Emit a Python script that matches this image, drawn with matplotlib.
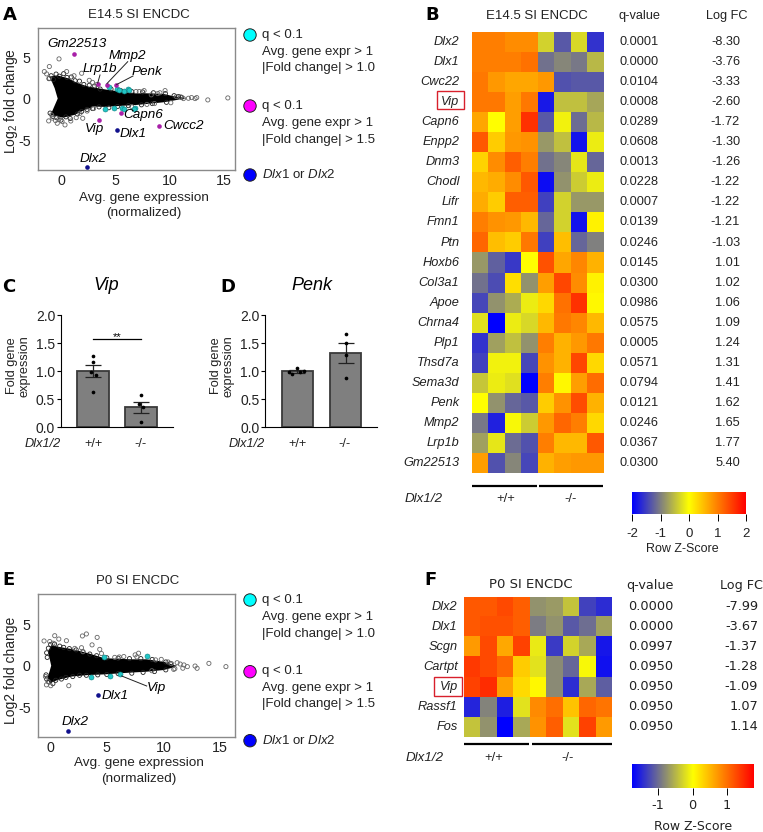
import matplotlib
matplotlib.use("Agg")
import matplotlib.pyplot as plt
import numpy as np
from matplotlib.colors import LinearSegmentedColormap
from matplotlib.patches import Circle, Rectangle

plt.rcParams["font.family"] = ["Liberation Sans", "DejaVu Sans"]
plt.rcParams["mathtext.fontset"] = "custom"
plt.rcParams["mathtext.rm"] = "Liberation Sans"
plt.rcParams["mathtext.it"] = "Liberation Sans:italic"
plt.rcParams["axes.unicode_minus"] = False

W, H = 763, 832
TXT = "#222222"

# panel A, MA plot
cloud_a_x = [-0.3, -0.58, -1.04, -0.28, 0.64, 1.56, 2.48, 3.4, 4.3, 6.35, 9.4, 10.3, 11.5,
             10.3, 9.4, 7.0, 4.0, 3.1, 2.18, 1.26, 0.2, -0.95, -0.6]
cloud_a_y = [0.0, 1.25, 2.66, 2.78, 2.45, 1.85, 1.45, 1.25, 1.05, 0.7, 0.57, 0.3, 0.05,
             -0.25, -0.45, -0.76, -1.0, -0.96, -1.36, -1.96, -2.3, -1.96, -0.9]
grey_a_x = [-0.18, -1.07, -1.53, -1.32, -1.07, 1.9, 0.52, -1.13, -0.86, -0.34, 0.37, 2.0, 1.75, 7.64, 9.57,
            15.34, 13.5, 12.33, 12.48, 11.72, 12.0, 11.26, 10.6, 11.0, 8.3, 7.2, 8.9, 2.6, 2.9, 3.3, 1.2,
            0.9, 1.4, -0.8, -0.5, -0.2, 0.1, 2.4, 3.0, 6.5, 7.9, 8.6, 6.9, 9.1, 10.1]
grey_a_y = [4.78, 3.86, 3.25, 2.97, 2.45, 3.05, 3.25, -2.69, -1.97, -2.97, -3.17, -2.37, -1.77, 0.96, 0.96,
            0.08, -0.16, 0.0, 0.12, 0.04, 0.12, 0.0, 0.24, 0.2, 0.45, 0.85, 0.6, 2.2, 1.95, 1.7, 2.75,
            -2.7, -2.3, -2.35, -2.65, -2.5, -2.75, -1.5, -1.2, -0.95, -0.7, -0.6, 0.85, 0.7, -0.5]
edge_a_x = [-1.1, -0.9, -0.7, -0.45, -0.15, 0.25, 0.55, 0.95, 1.3, 1.7, 2.1, 2.6, 3.1, 3.6, 4.6, 5.5, 6.5, 7.5, 8.5, 9.6,
            10.4, 10.8, 11.1, -1.0, -0.75, -0.4, 0.0, 0.45, 0.85, 1.5, 1.9, 2.4, 2.9, 3.5, 4.4, 5.2, 6.2, 7.4, 8.4, 9.7]
edge_a_y = [2.4, 2.75, 2.3, 2.95, 2.7, 3.0, 2.55, 2.6, 2.15, 2.1, 1.7, 1.6, 1.5, 1.15, 1.15, 0.95, 0.85, 0.8, 0.7, 0.6,
            0.35, 0.25, 0.15, -1.75, -2.15, -2.3, -2.6, -2.2, -2.4, -1.85, -1.55, -1.3, -1.2, -1.0, -1.1, -0.95, -0.85, -0.75, -0.6, -0.45]
cyan_a_x = [4.42, 5.12, 5.83, 6.2, 6.29, 5.37, 4.08, 4.88, 5.58, 5.8, 6.84, 6.75]
cyan_a_y = [1.37, 1.12, 0.96, 1.2, 1.0, 1.04, -1.24, -1.16, -1.16, -1.24, -1.08, -1.24]
magenta_a_x = [1.2, 3.37, 4.23, 5.06, 5.52, 3.53, 9.02]
magenta_a_y = [5.38, 1.73, 1.6, 1.6, -1.73, -2.6, -3.3]
blue_a_x = [5.15, 2.39]
blue_a_y = [-3.74, -8.23]

# panel E, MA plot
cloud_e_x = [0.1, -0.18, 0.12, 0.7, 1.9, 3.35, 4.8, 7.06, 8.5, 10.0, 10.9, 11.2,
             10.9, 10.0, 8.5, 7.06, 4.8, 3.35, 1.9, 0.7, -0.03, -0.24, -0.05]
cloud_e_y = [0.0, 1.7, 2.48, 2.28, 2.0, 1.5, 0.9, 0.77, 0.77, 0.48, 0.08, 0.0,
             -0.2, -0.52, -0.72, -0.83, -1.04, -1.12, -1.3, -1.7, -2.1, -1.5, -0.7]
grey_e_x = [0.41, 0.77, -0.53, -0.03, 0.26, 1.44, 2.85, 3.2, 4.15, 3.7, 4.38, 4.53, 2.77, 2.18, 2.9, -0.41, -0.32, 0.06,
            -0.18, 1.65, 15.5, 14.0, 12.96, 12.78, 12.1, 11.8, 11.7, 11.47, 11.2, 10.9, 10.7, 7.8, 7.5, 7.65, 9.8, 8.97,
            6.1, 6.5, 5.7, 9.3, 11.0, 10.4]
grey_e_y = [3.6, 3.2, 2.97, 2.9, 2.7, 3.0, 3.57, 3.81, 3.4, 2.5, 1.96, 1.46, 2.16, 2.08, 1.69, -1.3, -2.3, -2.4,
            -1.9, -2.4, -0.11, 0.28, -0.31, -0.04, -0.11, 0.09, -0.3, 0.2, 0.36, -0.44, 0.25, 1.5, 1.3, 1.05, 0.76, -0.6,
            1.05, 1.1, 1.0, 0.7, -0.35, 0.45]
edge_e_x = [-0.25, -0.3, -0.15, 0.05, 0.4, 0.85, 1.2, 1.7, 2.3, 2.9, 3.5, 4.1, 5.0, 6.0, 7.0, 8.0, 9.0, 10.2, 10.6,
            -0.35, -0.3, -0.1, 0.25, 0.5, 1.0, 1.4, 2.0, 2.6, 3.2, 4.2, 5.0, 6.0, 7.2, 8.2, 9.2, 10.2]
edge_e_y = [1.0, 1.55, 2.1, 2.55, 2.6, 2.35, 2.2, 2.05, 1.9, 1.65, 1.4, 1.2, 0.95, 0.9, 0.85, 0.85, 0.75, 0.45, 0.25,
            -1.1, -1.6, -1.95, -2.15, -1.75, -1.6, -1.4, -1.3, -1.15, -1.15, -1.1, -1.05, -0.95, -0.9, -0.8, -0.7, -0.5]
cyan_e_x = [4.74, 3.65, 5.32, 6.2, 8.53]
cyan_e_y = [1.09, -1.3, -1.2, -1.04, 1.16]
blue_e_x = [4.2, 1.56]
blue_e_y = [-3.56, -7.88]

# panel B heatmap
genes_b = ["Dlx2", "Dlx1", "Cwc22", "Vip", "Capn6", "Enpp2", "Dnm3", "Chodl", "Lifr", "Fmn1", "Ptn",
           "Hoxb6", "Col3a1", "Apoe", "Chrna4", "Plp1", "Thsd7a", "Sema3d", "Penk", "Mmp2", "Lrp1b", "Gm22513"]
q_b = ["0.0001", "0.0000", "0.0104", "0.0008", "0.0289", "0.0608", "0.0013", "0.0228", "0.0007", "0.0139", "0.0246",
       "0.0145", "0.0300", "0.0986", "0.0575", "0.0005", "0.0571", "0.0794", "0.0121", "0.0246", "0.0367", "0.0300"]
fc_b = ["-8.30", "-3.76", "-3.33", "-2.60", "-1.72", "-1.30", "-1.26", "-1.22", "-1.22", "-1.21", "-1.03",
        "1.01", "1.02", "1.06", "1.09", "1.24", "1.31", "1.41", "1.62", "1.65", "1.77", "5.40"]
z_b = [
    [1.0, 1.0, 0.9, 0.9, -0.35, -1.3, -0.3, -1.6],
    [1.0, 1.0, 1.0, 1.1, -1.1, -0.95, -1.05, -0.55],
    [1.05, 0.8, 0.7, 0.7, 0.8, -1.35, -1.3, -1.3],
    [1.05, 1.05, 0.75, 1.05, -1.8, -0.5, -0.5, -0.7],
    [0.7, 0.0, 0.75, 1.6, -1.3, -0.1, -1.15, -0.55],
    [1.3, 0.4, 0.8, 0.85, -0.8, -0.5, -1.85, -0.15],
    [0.35, 0.9, 1.25, 1.0, -1.1, -0.95, -0.2, -1.2],
    [0.55, 0.65, 0.9, 1.3, -1.9, -0.85, -0.4, -0.15],
    [0.65, 0.4, 1.25, 1.25, -1.5, -0.35, -0.8, -0.8],
    [1.0, 0.85, 0.8, 0.55, -1.2, -0.35, -1.85, 0.1],
    [1.2, 0.5, 0.4, 1.05, -1.5, 0.5, -1.2, -1.0],
    [-0.8, -1.25, -1.55, 0.0, 1.35, 0.7, 0.95, 0.6],
    [-1.1, -1.4, 0.25, -0.85, 0.75, 1.45, 0.9, 0.1],
    [-1.45, -0.85, -0.65, -0.15, 0.3, 1.1, 1.6, 0.05],
    [-0.25, -2.0, -0.15, -0.3, 0.55, 1.05, 0.95, 0.55],
    [-1.6, -0.75, -0.5, -0.85, 1.0, 0.6, 0.8, 1.05],
    [-1.5, -0.1, -0.1, -1.45, 0.85, 0.6, 1.45, 0.3],
    [-0.45, -0.15, -0.25, -2.0, 1.0, 0.05, 0.75, 1.15],
    [0.0, -0.85, -1.2, -1.3, 0.4, 0.85, 1.4, 0.6],
    [-1.05, -1.75, -0.05, -0.4, 0.8, 1.2, 1.0, 0.3],
    [-0.75, -0.2, -1.15, -1.35, 1.0, 0.55, 0.55, 1.3],
    [0.75, -1.35, -0.95, -1.45, 0.6, 0.75, 0.8, 0.8],
]

# panel F heatmap
genes_f = ["Dlx2", "Dlx1", "Scgn", "Cartpt", "Vip", "Rassf1", "Fos"]
q_f = ["0.0000", "0.0000", "0.0997", "0.0950", "0.0950", "0.0950", "0.0950"]
fc_f = ["-7.99", "-3.67", "-1.37", "-1.28", "-1.09", "1.07", "1.14"]
z_f = [
    [1.15, 1.15, 1.25, 1.1, -0.75, -0.7, -0.4, -1.3, -1.45],
    [1.15, 1.2, 1.2, 1.1, -0.9, -0.75, -1.15, -1.0, -0.65],
    [0.7, 1.25, 0.6, 1.3, -0.15, -1.35, -0.3, -0.6, -1.6],
    [1.35, 1.25, 1.05, 0.35, -0.2, -0.8, -1.05, -0.05, -1.65],
    [1.3, 1.45, 0.65, 0.25, 0.05, -0.8, -1.45, -0.6, -1.1],
    [-1.5, -0.85, -1.55, -0.2, 0.8, 1.0, 0.4, 1.05, 0.95],
    [-0.4, -0.75, -1.76, -0.6, 0.75, 1.1, -0.2, 1.3, 0.7],
]

# bars C and D
vip_mean = [1.0, 0.36]
vip_sem = [0.11, 0.1]
vip_pts_wt = [1.28, 1.16, 0.98, 0.94, 0.63]
vip_pts_ko = [0.58, 0.41, 0.36, 0.09]
vip_off_wt = [0, 0, -1.7, 3.3, 0]
vip_off_ko = [0, -2.3, 2, 0]
penk_mean = [1.0, 1.33]
penk_sem = [0.03, 0.18]
penk_pts_wt = [1.06, 0.99, 0.96, 0.98, 1.0]
penk_pts_ko = [1.67, 1.51, 1.29, 0.875]
penk_off_wt = [0, -8, -5.5, 2.5, 6.5]
penk_off_ko = [0, 0, 0, 0]

cmap = LinearSegmentedColormap.from_list("byr", ["#0000ff", "#ffff00", "#ff0000"])


def px_axes(fig, left, top, right, bottom):
    return fig.add_axes([left / W, 1 - bottom / H, (right - left) / W, (bottom - top) / H])


fig = plt.figure(figsize=(W / 100, H / 100), dpi=100, facecolor="white")


def ma_plot(box, xlim, ylim, cloud, grey, edge, cyan, magenta, blue):
    ax = px_axes(fig, *box)
    ax.fill(cloud[0], cloud[1], color="black", lw=0, zorder=2)
    ax.scatter(edge[0], edge[1], s=9, facecolors="none", edgecolors="#222222", linewidths=0.6, zorder=2)
    ax.scatter(grey[0], grey[1], s=9, facecolors="none", edgecolors="#666666", linewidths=0.6, zorder=2)
    ax.scatter(cyan[0], cyan[1], s=13, color="#22c6c6", edgecolors="#108080", linewidths=0.4, zorder=3)
    if magenta:
        ax.scatter(magenta[0], magenta[1], s=11, color="#a820a8", linewidths=0, zorder=3)
    ax.scatter(blue[0], blue[1], s=11, color="#10108c", linewidths=0, zorder=3)
    ax.set_xlim(*xlim)
    ax.set_ylim(*ylim)
    ax.set_xticks([0, 5, 10, 15])
    ax.set_yticks([-5, 0, 5])
    for s in ax.spines.values():
        s.set_color("#8a8a8a")
        s.set_linewidth(1)
    ax.tick_params(length=0, labelsize=10.3, labelcolor=TXT)
    ax.tick_params(axis="x", pad=3)
    ax.tick_params(axis="y", pad=5)
    return ax


ma_plot((37.7, 28, 235, 170), (-2.14, 16.0), (-8.6, 8.5), (cloud_a_x, cloud_a_y), (grey_a_x, grey_a_y),
        (edge_a_x, edge_a_y), (cyan_a_x, cyan_a_y), (magenta_a_x, magenta_a_y), (blue_a_x, blue_a_y))
ma_plot((37.7, 594.3, 235, 736.7), (-1.09, 16.3), (-8.52, 8.57), (cloud_e_x, cloud_e_y), (grey_e_x, grey_e_y),
        (edge_e_x, edge_e_y), (cyan_e_x, cyan_e_y), None, (blue_e_x, blue_e_y))


def bar_plot(box, means, sems, pts, offs):
    ax = px_axes(fig, *box)
    xs = [1, 2]
    ax.bar(xs, means, width=0.654, color="#7f7f7f", edgecolor="#3a3a3a", linewidth=1.3, zorder=2)
    ax.errorbar(xs, means, yerr=sems, fmt="none", ecolor="#222222", elinewidth=0.9, capsize=5.6, capthick=0.9, zorder=3)
    for x, vals, off in zip(xs, pts, offs):
        ax.scatter(x + np.array(off) / 48, vals, s=7, color="black", linewidths=0, zorder=4)
    ax.set_xlim(0.327, 2.66)
    ax.set_ylim(0, 2)
    ax.set_yticks([0, 0.5, 1, 1.5, 2])
    ax.set_yticklabels(["0.0", "0.5", "1.0", "1.5", "2.0"])
    ax.set_xticks([])
    ax.spines["top"].set_visible(False)
    ax.spines["right"].set_visible(False)
    ax.tick_params(length=3, width=0.8, labelsize=10, pad=1, labelcolor=TXT)
    return ax


ax_c = bar_plot((60.7, 315.3, 172.7, 427.3), vip_mean, vip_sem, (vip_pts_wt, vip_pts_ko), (vip_off_wt, vip_off_ko))
ax_c.plot([1, 2], [1.57, 1.57], color="black", lw=0.9)
ax_c.text(1.5, 1.53, "**", ha="center", va="bottom", fontsize=8)
bar_plot((265, 315.3, 377.3, 427.3), penk_mean, penk_sem, (penk_pts_wt, penk_pts_ko), (penk_off_wt, penk_off_ko))


def heat(box, z, vlim):
    ax = px_axes(fig, *box)
    ax.imshow(z, cmap=cmap, vmin=-vlim, vmax=vlim, aspect="auto", interpolation="nearest")
    ax.axis("off")


heat((471.7, 32.3, 603, 472.7), z_b, 2)
heat((464.3, 596.7, 611.7, 736.7), z_f, 1.76)


def colour_bar(box, vlim, ticks, labels):
    ax = px_axes(fig, *box)
    grad = np.linspace(-vlim, vlim, 256)[None, :]
    ax.imshow(grad, cmap=cmap, vmin=-vlim, vmax=vlim, aspect="auto", extent=(-vlim, vlim, 0, 1))
    ax.set_yticks([])
    ax.set_xticks(ticks)
    ax.set_xticklabels(labels)
    for s in ax.spines.values():
        s.set_visible(False)
    return ax


cb_b = colour_bar((632.3, 492, 746.3, 514), 2, [-2, -1, 0, 1, 2], ["-2", "-1", "0", "1", "2"])
cb_b.tick_params(length=5, width=0.7, labelsize=9.5, pad=5, labelcolor=TXT)
cb_f = colour_bar((631.7, 764, 753.3, 788.3), 1.76, [-1, 0, 1], ["-1", "0", "1"])
cb_f.tick_params(length=5, width=0.7, labelsize=9.3, pad=3, labelcolor=TXT)
for lab in cb_f.get_xticklabels():
    lab.set_family("DejaVu Sans")

# everything else is placed in pixels on a full-figure overlay
ov = fig.add_axes([0, 0, 1, 1], zorder=10)
ov.set_xlim(0, W)
ov.set_ylim(H, 0)
ov.axis("off")
ov.patch.set_alpha(0)


def t(x, y, s, size=9.5, ha="center", **kw):
    kw.setdefault("color", TXT)
    ov.text(x, y, s, fontsize=size, ha=ha, va="center", **kw)


for x, y, s in [(10, 15, "A"), (432, 15, "B"), (9, 287, "C"), (228, 287, "D"), (9, 580, "E"), (430, 580, "F")]:
    ov.text(x, y, s, fontsize=13, fontweight="bold", ha="center", va="center", color="black", family="DejaVu Sans")

# titles and axis text
t(139, 15, "E14.5 SI ENCDC", 9.5)
t(137.7, 581, "P0 SI ENCDC", 9.5)
t(536.7, 16, "E14.5 SI ENCDC", 9.5)
t(530.7, 584, "P0 SI ENCDC", 9.5, family="DejaVu Sans")
t(10.7, 101, r"$\mathregular{Log_2}$ fold change", 10, rotation=90)
t(10.7, 670.7, "Log2 fold change", 10, rotation=90)
t(144, 198, "Avg. gene expression", 9.7)
t(144, 213, "(normalized)", 9.7)
t(138.7, 762.7, "Avg. gene expression", 9.7)
t(138.7, 779, "(normalized)", 9.7)
t(106.7, 286, "Vip", 13, style="italic", color="black")
t(312, 286, "Penk", 13, style="italic", color="black")
for x in (18.5, 222):
    t(x, 366, "Fold gene\nexpression", 9.2, rotation=90, linespacing=1.05)
for x0 in (0, 204):
    t(42.7 + x0, 444, "Dlx1/2", 9.2, style="italic")
    t(94 + x0, 444, "+/+", 9.2)
    t(140.7 + x0, 444, "-/-", 9.2)

# labels on the MA plots
for x, y, s in [(77, 44, "Gm22513"), (127.7, 55.7, "Mmp2"), (100, 68.7, "Lrp1b"), (146.7, 72.3, "Penk"),
                (143.3, 115, "Capn6"), (94.3, 129, "Vip"), (183.3, 125.7, "Cwcc2"), (133.3, 133.7, "Dlx1"),
                (93.3, 159.3, "Dlx2"), (156, 687.7, "Vip"), (115, 695.7, "Dlx1"), (75, 721.7, "Dlx2")]:
    t(x, y, s, 9.7, style="italic", color="black")
for x0, y0, x1, y1 in [(127.7, 61.7, 107, 83.5), (133, 76, 116.7, 84.5), (100, 75, 97.7, 83), (146.7, 686, 121.7, 676)]:
    ov.plot([x0, x1], [y0, y1], color="#222222", lw=0.7)

# legends next to the MA plots
for y0 in (35, 600):
    gap = [0, 71, 140] if y0 == 35 else [0, 71.7, 140.7]
    for dy, col in zip(gap, ["#00ffff", "#ff00ff", "#0000ff"]):
        ov.add_patch(Circle((250, y0 + dy), 6.2, facecolor=col, edgecolor="#222222", lw=0.7))
    for dy, fc_txt in ((0, "1.0"), (71, "1.5")):
        t(262, y0 + dy, "q < 0.1", 9.5, ha="left")
        t(262, y0 + dy + 17, "Avg. gene expr > 1", 9.5, ha="left")
        t(262, y0 + dy + 33.5, "|Fold change| > " + fc_txt, 9.5, ha="left")
    t(262, y0 + gap[2], r"$\mathit{Dlx1}$ or $\mathit{Dlx2}$", 9.5, ha="left")

# heatmap B text
t(639.3, 16, "q-value", 9.2)
t(726.7, 16, "Log FC", 9.2)
for i in range(len(genes_b)):
    y = 32.3 + 20.02 * (i + 0.5)
    t(459.3, y, genes_b[i], 9.2, ha="right", style="italic")
    t(639.3, y, q_b[i], 9.2)
    t(740, y, fc_b[i], 9.2, ha="right")
ov.add_patch(Rectangle((436.7, 90.7), 27.3, 18.6, fill=False, edgecolor="#d8202c", lw=1))
ov.plot([471.7, 536.7], [485.7, 485.7], color="black", lw=1.6, solid_capstyle="butt")
ov.plot([539, 603], [485.7, 485.7], color="black", lw=1.6, solid_capstyle="butt")
t(424, 498.7, "Dlx1/2", 9.6, style="italic")
t(506, 498.7, "+/+", 9.4)
t(570.7, 498.7, "-/-", 9.4)
t(682, 549, "Row Z-Score", 9)

# heatmap F text
t(650, 585, "q-value", 9.2, family="DejaVu Sans")
t(741.7, 585, "Log FC", 9.2, family="DejaVu Sans")
for i in range(len(genes_f)):
    y = 596.7 + 20 * (i + 0.5)
    t(457.7, y, genes_f[i], 9.2, ha="right", style="italic")
    t(651, y, q_f[i], 9.3, family="DejaVu Sans")
    t(758, y, fc_f[i], 9.3, ha="right", family="DejaVu Sans")
ov.add_patch(Rectangle((434, 677.3), 27.7, 18.7, fill=False, edgecolor="#d8202c", lw=1))
ov.plot([464.3, 529], [744.3, 744.3], color="black", lw=1.6, solid_capstyle="butt")
ov.plot([531.7, 611.7], [744.3, 744.3], color="black", lw=1.6, solid_capstyle="butt")
t(425, 757.7, "Dlx1/2", 9.6, style="italic")
t(494, 757.7, "+/+", 9.4)
t(568, 757.7, "-/-", 9.4)
t(692.7, 827, "Row Z-Score", 9, family="DejaVu Sans")

fig.savefig("out.png", dpi=100)
